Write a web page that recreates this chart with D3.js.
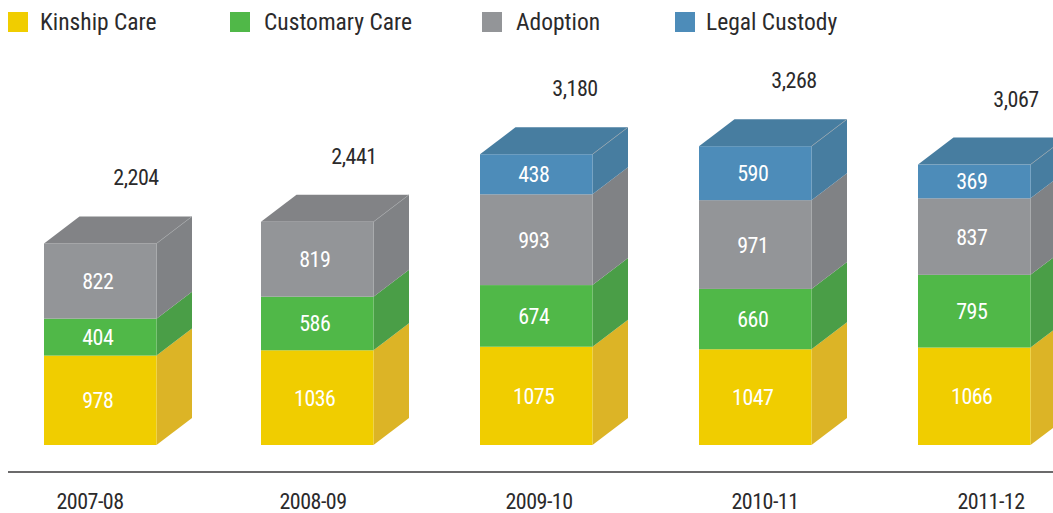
<!DOCTYPE html>
<html>
<head>
<meta charset="utf-8">
<script src="https://cdn.jsdelivr.net/npm/d3@7/dist/d3.min.js"></script>
<style>
html,body{margin:0;padding:0;background:#fff;overflow:hidden}
svg{display:block}
text{font-family:"Liberation Sans Narrow","Roboto Condensed","Liberation Sans",sans-serif}
</style>
</head>
<body>
<svg id="c" width="1053" height="513"></svg>
<script>
const years = ["2007-08","2008-09","2009-10","2010-11","2011-12"];
const seriesNames = ["Kinship Care","Customary Care","Adoption","Legal Custody"];
const kinship = [978,1036,1075,1047,1066];
const customary = [404,586,674,660,795];
const adoption = [822,819,993,971,837];
const legal = [0,0,438,590,369];
const totals = ["2,204","2,441","3,180","3,268","3,067"];

const frontColors = ["#f0cd00","#50b848","#939598","#4d8cb9"];
const sideColors = ["#dcb426","#4a9e47","#808285","#477da0"];

const W = 1053, H = 513, depthX = 35.5, depthY = -27, barW = 112.5;
const svg = d3.select("#c");
const x = d3.scaleOrdinal().domain(years).range([44,261,480,699,918]);
const y = d3.scaleLinear().domain([0,3500]).range([445,125]);
const yearX = d3.scaleOrdinal().domain(years).range([90,313,539,765,991]);
const totalX = d3.scaleOrdinal().domain(years).range([136,354,575,794,1016]);
const legendSwatchX = d3.scaleOrdinal().domain(seriesNames).range([8,230,482,675]);
const legendTextX = d3.scaleOrdinal().domain(seriesNames).range([40,264,516,706]);
const color = d3.scaleOrdinal().domain(seriesNames).range(frontColors);
const sideColor = d3.scaleOrdinal().domain(seriesNames).range(sideColors);

const table = years.map((yr,i)=>({year:yr,"Kinship Care":kinship[i],"Customary Care":customary[i],"Adoption":adoption[i],"Legal Custody":legal[i],total:totals[i]}));
const stacked = d3.stack().keys(seriesNames)(table);

// legend
const lg = svg.append("g");
seriesNames.forEach(n=>{
  lg.append("rect").attr("x",legendSwatchX(n)).attr("y",12).attr("width",20).attr("height",20).attr("fill",color(n));
  lg.append("text").attr("x",legendTextX(n)).attr("y",30).attr("font-size",23.5).attr("fill","#2b2a2b").text(n);
});

// bars
stacked.forEach(layer=>{
  const n = layer.key;
  layer.forEach(d=>{
    const yr = d.data.year;
    if(d[1]===d[0]) return;
    const x0 = x(yr), x1 = x0+barW, yTop = y(d[1]), yBot = y(d[0]);
    const g = svg.append("g");
    g.append("path")
      .attr("d",d3.line()([[x1,yBot],[x1+depthX,yBot+depthY],[x1+depthX,yTop+depthY],[x1,yTop]]))
      .attr("fill",sideColor(n));
    g.append("rect").attr("x",x0).attr("y",yTop).attr("width",barW).attr("height",yBot-yTop).attr("fill",color(n));
  });
});

// top faces
table.forEach(d=>{
  const topKey = seriesNames.filter(k=>d[k]>0).pop();
  const t = y(d3.sum(seriesNames,k=>d[k])), x0 = x(d.year), x1 = x0+barW;
  svg.append("path")
    .attr("d",d3.line()([[x0,t],[x0+depthX,t+depthY],[x1+depthX,t+depthY],[x1,t]])+"Z")
    .attr("fill",topKey==="Adoption"?"#828386":"#477da0");
  svg.append("line").attr("x1",x1).attr("y1",t).attr("x2",x1+depthX).attr("y2",t+depthY)
    .attr("stroke","#a5a7aa").attr("stroke-width",0.6);
  svg.append("text").attr("x",totalX(d.year)).attr("y",t-58).attr("text-anchor","middle")
    .attr("font-size",22).attr("letter-spacing",-0.5).attr("fill","#2b2a2b").text(d.total);
});

// value labels
stacked.forEach(layer=>{
  layer.forEach(d=>{
    if(d[1]===d[0]) return;
    svg.append("text").attr("x",x(d.data.year)+barW/2-2.5).attr("y",(y(d[0])+y(d[1]))/2+8)
      .attr("text-anchor","middle").attr("font-size",22).attr("letter-spacing",-0.5).attr("fill","#fff").text(d[1]-d[0]);
  });
});

// baseline and categories
svg.append("line").attr("x1",8).attr("x2",W).attr("y1",472).attr("y2",472).attr("stroke","#3a393a").attr("stroke-width",1.4);
years.forEach(yr=>{
  svg.append("text").attr("x",yearX(yr)).attr("y",509).attr("text-anchor","middle")
    .attr("font-size",22).attr("letter-spacing",-0.5).attr("fill","#2b2a2b").text(yr);
});
</script>
</body>
</html>
